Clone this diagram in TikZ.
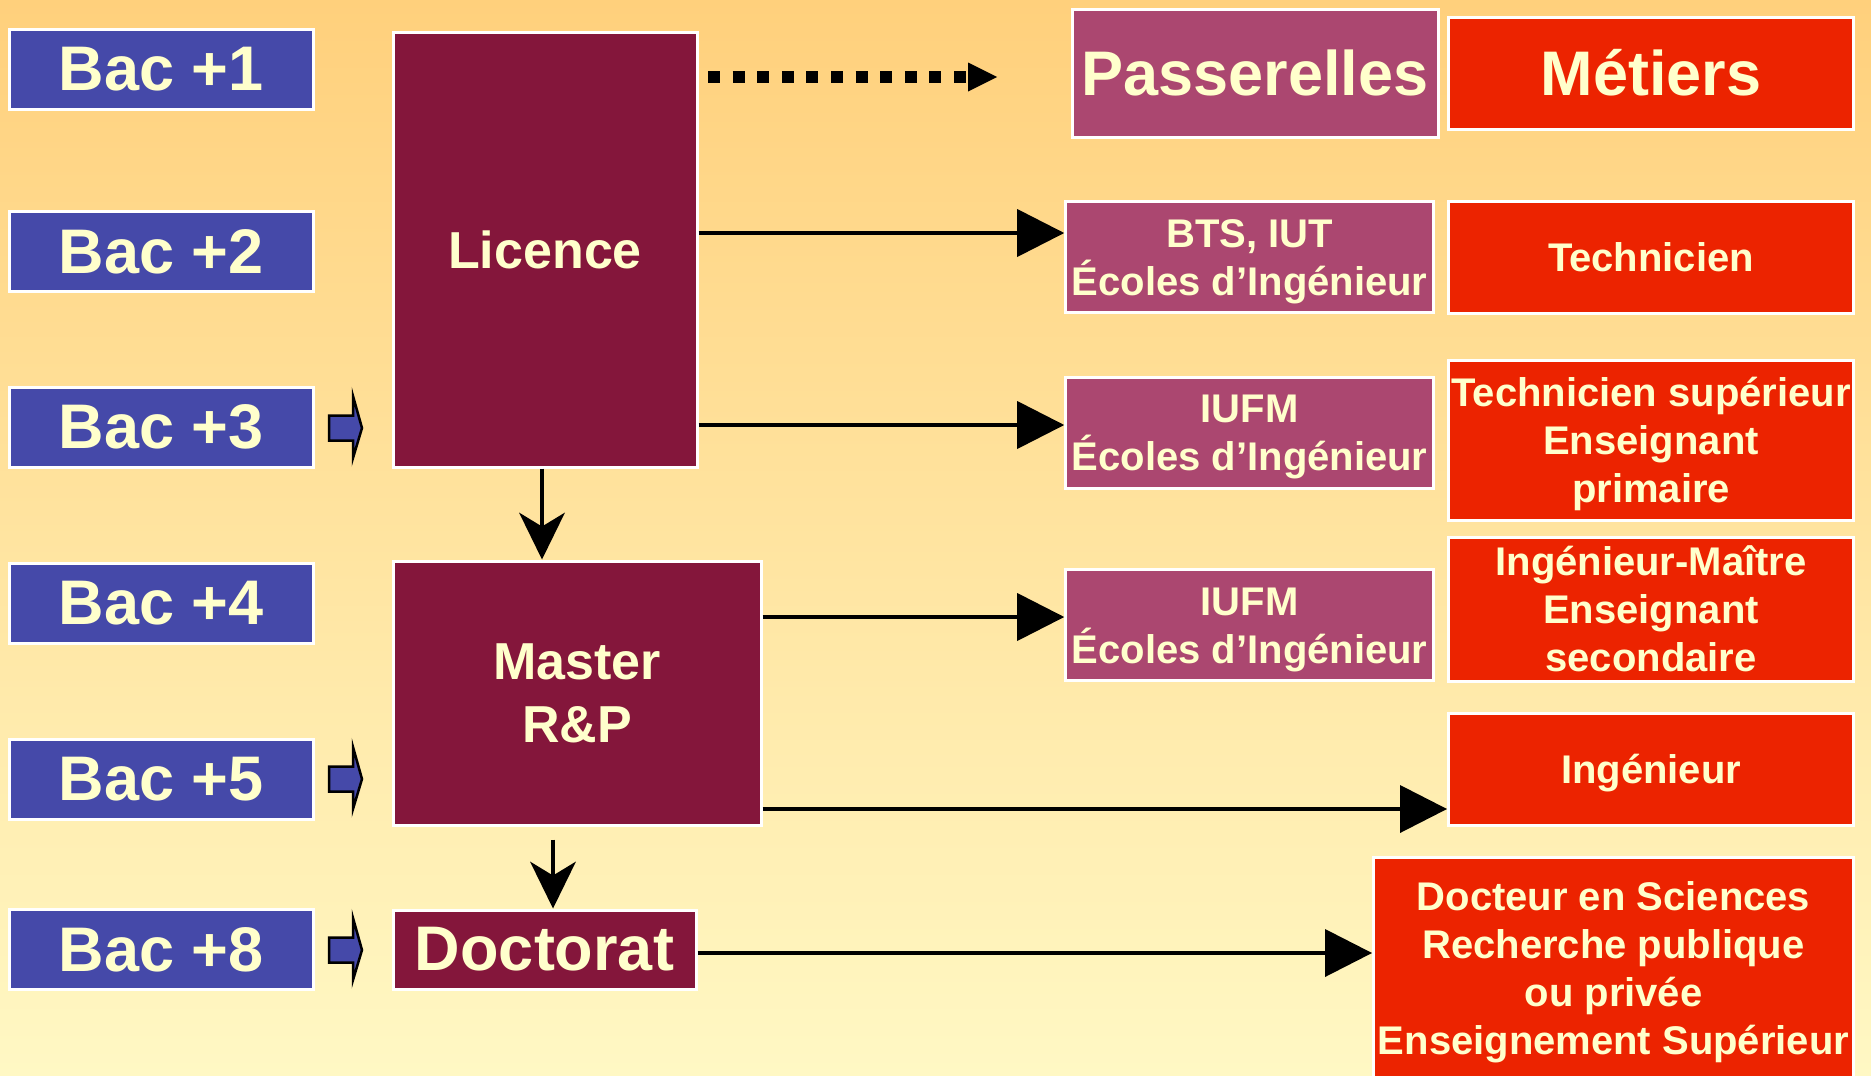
\documentclass[tikz,border=0pt]{standalone}
\usepackage{fontspec}
\setmainfont{Liberation Sans}
\usetikzlibrary{arrows.meta}
\definecolor{bgtop}{HTML}{FFD07C}
\definecolor{bgbot}{HTML}{FFF8C4}
\definecolor{bacblue}{HTML}{4549A9}
\definecolor{degmaroon}{HTML}{84163B}
\definecolor{passcol}{HTML}{AB4770}
\definecolor{metred}{HTML}{EC2300}
\definecolor{cream}{HTML}{FFFFCC}
\begin{document}
\begin{tikzpicture}[x=1pt,y=-1pt,
  box/.style={rectangle, draw=white, line width=3pt, inner sep=0pt, text=cream, align=center},
  bigfont/.style={font=\bfseries\fontsize{63}{63}\selectfont},
  midfont/.style={font=\bfseries\fontsize{52}{63}\selectfont},
  smallfont/.style={font=\bfseries\fontsize{40}{48}\selectfont},
  oneline/.style={smallfont, text height=37pt, text depth=9pt},
  twolines/.style={smallfont, text height=85pt, text depth=9pt},
  threelines/.style={smallfont, text height=133pt, text depth=9pt},
  fourlines/.style={smallfont, text height=181pt, text depth=15pt},
  bacbox/.style={box, fill=bacblue, minimum width=304pt, minimum height=80pt, bigfont},
  degbox/.style={box, fill=degmaroon},
  passbox/.style={box, fill=passcol, minimum width=368pt, minimum height=111pt},
  metbox/.style={box, fill=metred, minimum width=405pt},
  conn/.style={line width=4pt, -{Triangle[length=47pt,width=48pt,line width=0pt]}},
  downconn/.style={line width=4pt, -{Stealth[length=47pt,width=46pt,inset=14pt,line width=0pt]}},
  dotconn/.style={line width=12pt, dash pattern=on 12pt off 12.6pt, -{Triangle[length=29pt,width=29pt,line width=0pt]}},
  smallarrow/.style={draw=black, fill=bacblue, line width=2.5pt, line join=miter}
]
\useasboundingbox (0,0) rectangle (1871,1076);
\clip (0,0) rectangle (1871,1076);
\shade[top color=bgtop, bottom color=bgbot] (0,0) rectangle (1871,1076);

% Bac column
\node[bacbox] (bac1) at (161,69.5) {Bac +1};
\node[bacbox] (bac2) at (161,251.5) {Bac +2};
\node[bacbox] (bac3) at (161,427) {Bac +3};
\node[bacbox] (bac4) at (161,603) {Bac +4};
\node[bacbox] (bac5) at (161,779.5) {Bac +5};
\node[bacbox] (bac8) at (161,949.5) {Bac +8};

% small block arrows
\foreach \yy in {428,779,950}{
  \draw[smallarrow] (329,\yy-12.5) -- (353,\yy-12.5) -- (353,\yy-32) -- (362,\yy)
        -- (353,\yy+30) -- (353,\yy+12.5) -- (329,\yy+12.5) -- cycle;
}

% Degrees
\node[degbox, minimum width=304pt, minimum height=435pt, midfont] (licence) at (545,249.5) {Licence};
\node[degbox, minimum width=368pt, minimum height=264pt, midfont] (master) at (577,693) {Master\\R\&P};
\node[degbox, minimum width=303pt, minimum height=79pt, bigfont] (doctorat) at (544.5,949.5) {Doctorat};

% Passerelles column
\node[passbox, minimum width=366pt, minimum height=128pt, bigfont] (pass) at (1255,73) {Passerelles};
\node[passbox, twolines] (bts) at (1249.7,257) {BTS, IUT\\Écoles d’Ingénieur};
\node[passbox, twolines] (iufma) at (1249.7,432.5) {IUFM\\Écoles d’Ingénieur};
\node[passbox, twolines] (iufmb) at (1249.7,625) {IUFM\\Écoles d’Ingénieur};

% Metiers column
\node[metbox, minimum height=112pt, bigfont] (metiers) at (1651,73.2) {Métiers};
\node[metbox, minimum height=112pt, oneline] (tech) at (1651,257) {Technicien};
\node[metbox, minimum height=160pt, threelines] (techsup) at (1651,440) {Technicien supérieur\\Enseignant\\primaire};
\node[metbox, minimum height=144pt, threelines] (ingmaitre) at (1651,609) {Ingénieur-Maître\\Enseignant\\secondaire};
\node[metbox, minimum height=112pt, oneline] (ing) at (1651,769) {Ingénieur};
\node[metbox, minimum width=480pt, minimum height=228pt, fourlines] (docteur) at (1613.5,971) {Docteur en Sciences\\Recherche publique\\ou privée\\Enseignement Supérieur};

% connectors
\coordinate (dotA) at (708,77);
\coordinate (dotB) at (997,77);
\draw[dotconn] (dotA) -- (dotB);

\draw[conn] (licence.east |- 0,233) -- (bts.west |- 0,233);
\draw[conn] (licence.east |- 0,425) -- (iufma.west |- 0,425);
\draw[conn] (master.east |- 0,617) -- (iufmb.west |- 0,617);
\draw[conn] (master.east |- 0,809) -- (ing.west |- 0,809);
\draw[conn] (doctorat.east |- 0,953) -- (docteur.west |- 0,953);

\draw[downconn] (542,0 |- licence.south) -- (542,0 |- master.north);
\draw[downconn, shorten <=13pt] (553,0 |- master.south) -- (553,0 |- doctorat.north);
\end{tikzpicture}
\end{document}
